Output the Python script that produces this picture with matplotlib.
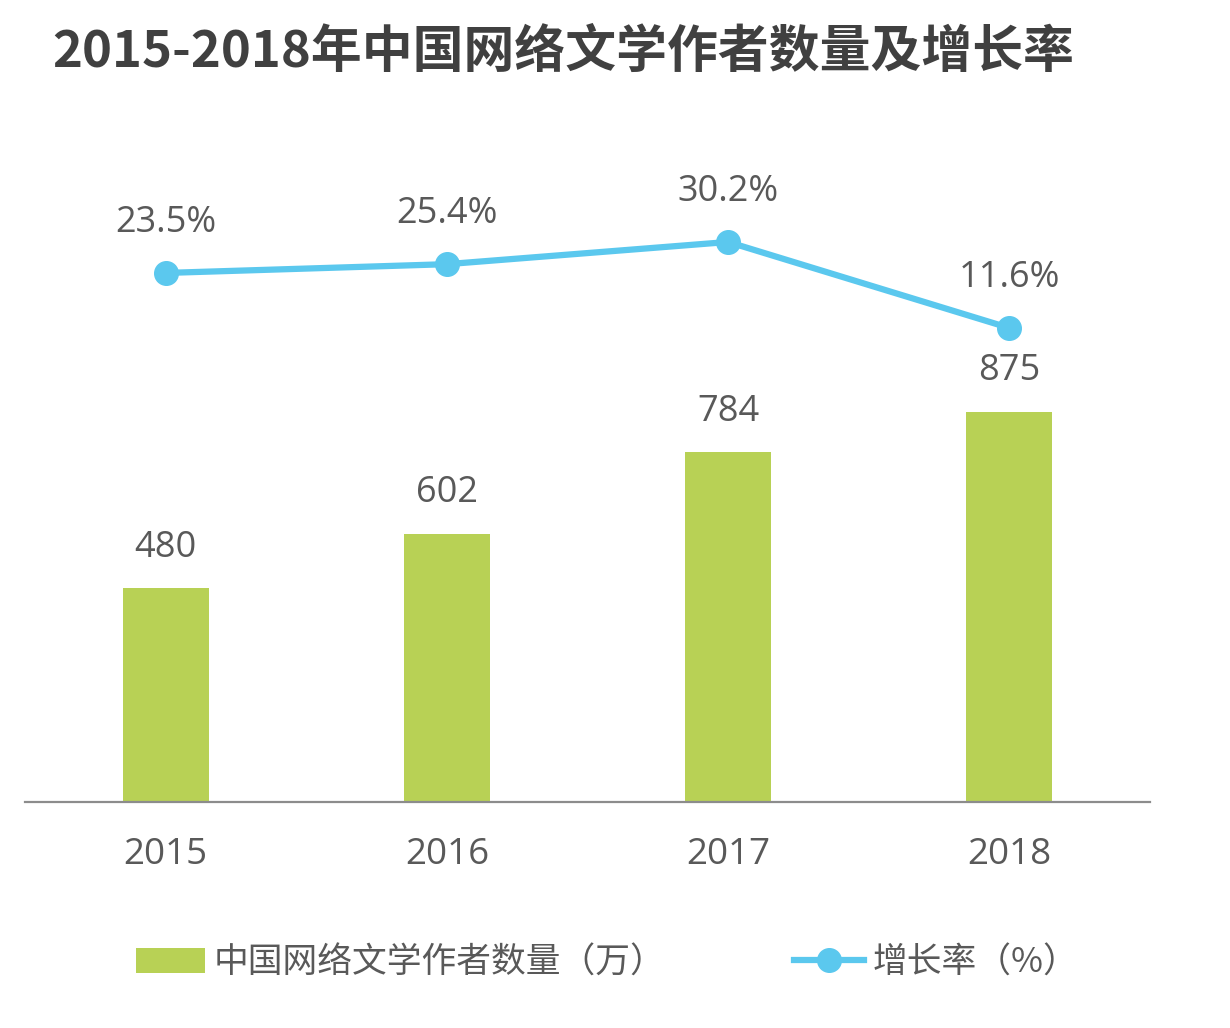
import matplotlib
matplotlib.use('Agg')
from matplotlib import pyplot as plt
from matplotlib.patches import Patch
from matplotlib.lines import Line2D

years = ['2015', '2016', '2017', '2018']
authors = [480, 602, 784, 875]          # 中国网络文学作者数量（万）
growth = [23.5, 25.4, 30.2, 11.6]       # 增长率（%）

green = '#B8D155'
blue = '#5BC8EE'
txt = '#595959'
fonts = ['Open Sans', 'Noto Sans CJK SC', 'DejaVu Sans']
plt.rcParams['font.family'] = fonts

fig = plt.figure(figsize=(12.3, 10.28), dpi=100)
ax = fig.add_axes([25/1230, 1-802/1028, 1125/1230, 702/1028])
x = range(len(years))

ax.bar(x, authors, width=0.306, color=green, zorder=2)
ax.set_xlim(-0.5, 3.5)
ax.set_ylim(0, 1574)
for i, v in enumerate(authors):
    ax.annotate(str(v), (i, v), xytext=(0, 29), textcoords='offset points',
                ha='center', va='center', fontsize=26, color=txt)

for s in ['top', 'left', 'right']:
    ax.spines[s].set_visible(False)
ax.spines['bottom'].set_color('#8c8c8c')
ax.spines['bottom'].set_linewidth(1.6)
ax.set_yticks([])
ax.set_xticks(list(x))
ax.set_xticklabels(years, fontsize=26.5, color=txt)
ax.tick_params(axis='x', length=0, pad=25)

ax2 = ax.twinx()
ax2.plot(x, growth, color=blue, linewidth=4.5, marker='o', markersize=17, zorder=3)
ax2.set_ylim(-90.9, 60.9)
ax2.set_yticks([])
for s in ax2.spines.values():
    s.set_visible(False)
for i, v in enumerate(growth):
    ax2.annotate(f'{v:.1f}%', (i, v), xytext=(0, 36), textcoords='offset points',
                 ha='center', va='center', fontsize=26, color=txt)

fig.text(52/1230, 1-52/1028, '2015-2018年中国网络文学作者数量及增长率',
         fontsize=36.6, fontweight='bold', color='#404040', va='center',
         family=['Noto Sans CJK SC', 'DejaVu Sans'])

handles = [Patch(facecolor=green, edgecolor='none'),
           Line2D([], [], color=blue, linewidth=4.5, marker='o', markersize=17)]
fig.legend(handles, ['中国网络文学作者数量（万）', '增长率（%）'],
           loc='center', bbox_to_anchor=(607/1230, 1-963/1028), ncol=2,
           frameon=False, handlelength=2.0, handletextpad=0.25,
           columnspacing=3.7, labelcolor=txt,
           prop={'family': ['Noto Sans CJK SC', 'DejaVu Sans'], 'size': 25})

plt.savefig('out.png', dpi=100)
